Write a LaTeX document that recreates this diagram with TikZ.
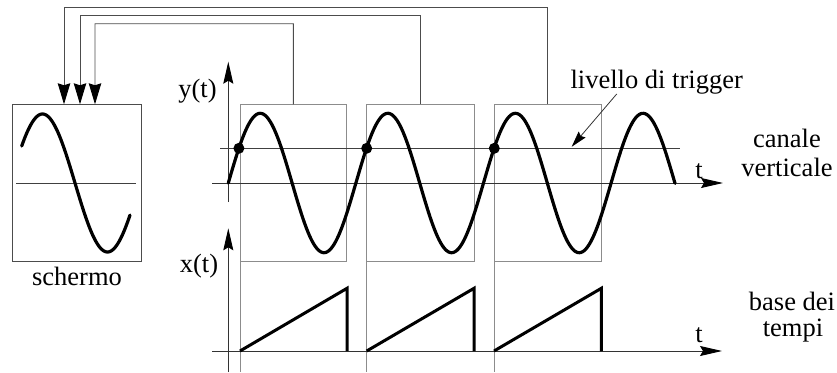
\documentclass[tikz,border=0pt]{standalone}
\usepackage{fontspec}
\setmainfont{Liberation Serif}
\usetikzlibrary{arrows.meta}
\begin{document}
\begin{tikzpicture}[x=1pt,y=-1pt,
  wave/.style={line width=3.2pt,line cap=round,line join=round},
  saw/.style={line width=3pt,line join=miter},
  thinline/.style={line width=0.9pt,black!75},
  win/.style={draw=black!45,line width=0.9pt,inner sep=0pt,outer sep=0pt,anchor=north west},
  scr/.style={draw=black!70,line width=0.9pt,inner sep=0pt,outer sep=0pt,anchor=north west},
  feed/.style={line width=0.9pt,black!70,-{Stealth[length=21pt,width=12.5pt,inset=2pt,black]}},
  axis/.style={line width=0.9pt,black!80,-{Stealth[length=22pt,width=10pt,inset=3pt,black]}},
  lbl/.style={font=\fontsize{26.5}{27}\selectfont,inner sep=0pt,anchor=base},
  dot/.style={circle,fill=black,minimum size=11pt,inner sep=0pt}
]
\useasboundingbox (0,0) rectangle (837,372);

% screen
\node[scr,minimum width=129pt,minimum height=156.7pt] (screen) at (12.3,104.3) {};
\draw[thinline] (16,183) -- (136,183);
\draw[wave] plot[domain=21.7:130,samples=120] (\x,{183-69*sin(360/130*(\x-10))});
\node[lbl] (schermo) at (77,285) {schermo};

% windows
\node[win,minimum width=106.7pt,minimum height=156.7pt] (w1) at (240,104.3) {};
\node[win,minimum width=107.6pt,minimum height=156.7pt] (w2) at (366.7,104.3) {};
\node[win,minimum width=107.3pt,minimum height=156.7pt] (w3) at (494,104.3) {};
\draw[line width=0.9pt,black!45] (w1.south west) -- (240,372);
\draw[line width=0.9pt,black!45] (w2.south west) -- (366.7,372);
\draw[line width=0.9pt,black!45] (w3.south west) -- (494,372);

% feedback connectors
\draw[feed] (w3.north) -- (547.65,7.3) -| ([xshift=51.7pt]screen.north west);
\draw[feed] (w2.north) -- (420.5,15.3) -| ([xshift=67.7pt]screen.north west);
\draw[feed] (w1.north) -- (293.35,23.7) -| ([xshift=82.7pt]screen.north west);

% vertical channel axes
\coordinate (yb) at (228.3,202);
\coordinate (yt) at (228.3,61.7);
\draw[axis] (yb) -- (yt);
\coordinate (tl) at (212,183);
\coordinate (tr) at (723,183);
\draw[axis] (tl) -- (tr);
\draw[thinline] (220,148.3) -- (680,148.3);
\node[lbl] (ylab) at (197.5,97) {y(t)};
\node[lbl] (t1) at (699,178) {t};

% signal
\draw[wave] plot[domain=228.3:675,samples=300] (\x,{183-69.7*sin(360/127.6*(\x-228.3))});
\node[dot] (d1) at (238.9,148.3) {};
\node[dot] (d2) at (366.7,148.3) {};
\node[dot] (d3) at (494.3,148.3) {};

% trigger label
\node[lbl] (trig) at (656.7,88.5) {livello di trigger};
\coordinate (trigpt) at (571.7,146.7);
\draw[line width=0.8pt,black!80,-{Stealth[length=16pt,width=9pt,inset=2pt,black]}] (616.7,94) -- (trigpt);

\node[lbl] (can1) at (787,147.3) {canale};
\node[lbl] (can2) at (787,176) {verticale};

% time base
\coordinate (xb) at (228.3,372);
\coordinate (xt) at (228.3,228.3);
\draw[axis] (xb) -- (xt);
\coordinate (bl) at (212,351);
\coordinate (br) at (722,351);
\draw[axis] (bl) -- (br);
\node[lbl] (xlab) at (199,272) {x(t)};
\node[lbl] (t2) at (699,342.7) {t};

\draw[saw] (240,351) -- (347,288.3) -- (347,351);
\draw[saw] (366.7,351) -- (474,288.3) -- (474,351);
\draw[saw] (494,351) -- (601.3,288.3) -- (601.3,351);

\node[lbl] (base1) at (792,310.7) {base dei};
\node[lbl] (base2) at (793,336.7) {tempi};
\end{tikzpicture}
\end{document}
